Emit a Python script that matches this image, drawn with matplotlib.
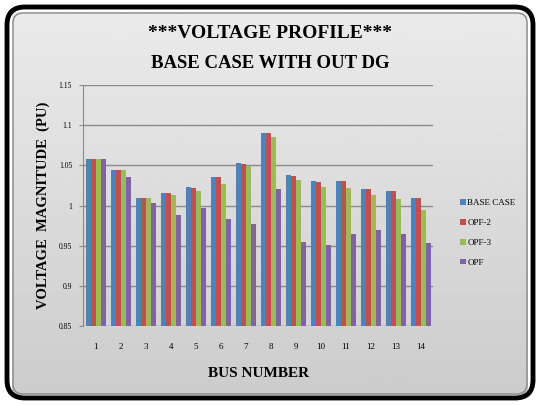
import numpy as np
import matplotlib.pyplot as plt
from matplotlib.patches import FancyBboxPatch

# bus voltages (p.u.)
buses = list(range(1, 15))
base_case = [1.058, 1.044, 1.009, 1.016, 1.023, 1.035, 1.053, 1.090, 1.038, 1.030, 1.030, 1.021, 1.018, 1.010]
opf_2 = [1.058, 1.044, 1.009, 1.016, 1.022, 1.035, 1.052, 1.090, 1.037, 1.029, 1.030, 1.021, 1.018, 1.010]
opf_3 = [1.058, 1.044, 1.009, 1.013, 1.018, 1.027, 1.049, 1.085, 1.032, 1.023, 1.022, 1.013, 1.008, 0.994]
opf = [1.058, 1.035, 1.003, 0.988, 0.997, 0.983, 0.977, 1.021, 0.954, 0.951, 0.965, 0.970, 0.965, 0.953]

series = [("BASE CASE", base_case, "#4F81BD"),
          ("OPF-2", opf_2, "#C0504D"),
          ("OPF-3", opf_3, "#9BBB59"),
          ("OPF", opf, "#8064A2")]

plt.rcParams['font.family'] = ['Liberation Serif', 'DejaVu Serif']

fig = plt.figure(figsize=(5.4, 4.05), dpi=100)

# background: rounded black frame with grey gradient inside
bg = fig.add_axes([0, 0, 1, 1])
bg.set_xlim(0, 540)
bg.set_ylim(405, 0)
bg.axis('off')
grad = np.linspace(0.92, 0.80, 256).reshape(-1, 1)
bg.imshow(grad, cmap='gray', vmin=0, vmax=1, extent=[12, 528, 395, 12], aspect='auto', zorder=0)
frame = FancyBboxPatch((7, 7), 526, 391, boxstyle="round,pad=0,rounding_size=18",
                       fill=False, edgecolor='black', linewidth=3.5, zorder=2)
bg.add_patch(frame)
inner = FancyBboxPatch((13, 13), 514, 381, boxstyle="round,pad=0,rounding_size=10",
                       fill=False, edgecolor='#888888', linewidth=1.0, zorder=2)
bg.add_patch(inner)

ax = fig.add_axes([0.154, 0.195, 0.648, 0.595])
ax.set_facecolor('none')
x = np.arange(len(buses)) + 1
w = 0.2
for i, (name, vals, col) in enumerate(series):
    ax.bar(x + (i - 1.5) * w, vals, width=w, color=col, label=name, zorder=3)

ax.set_ylim(0.85, 1.15)
ax.set_xlim(0.5, 14.5)
ax.set_yticks([0.85, 0.9, 0.95, 1.0, 1.05, 1.1, 1.15])
ax.set_yticklabels(['0.85', '0.9', '0.95', '1', '1.05', '1.1', '1.15'], fontsize=5.5)
ax.set_xticks(x)
ax.set_xticklabels([str(b) for b in buses], fontsize=6.5)
ax.yaxis.grid(True, color='#8a8a8a', linewidth=1.0, zorder=0)
ax.set_axisbelow(True)
for s in ['top', 'right', 'bottom']:
    ax.spines[s].set_visible(False)
ax.spines['left'].set_color('#8a8a8a')
ax.tick_params(axis='x', length=0, pad=12)
ax.tick_params(axis='y', length=3, color='#8a8a8a', pad=5)

ax.set_xlabel('BUS NUMBER', fontsize=11, fontweight='bold', labelpad=12)
ax.set_ylabel('VOLTAGE  MAGNITUDE  (PU)', fontsize=10.5, fontweight='bold', labelpad=6)

fig.text(0.5, 1 - 34 / 405, '***VOLTAGE PROFILE***', ha='center', va='center',
         fontsize=14, fontweight='bold')
fig.text(0.5, 1 - 63 / 405, 'BASE CASE WITH OUT DG', ha='center', va='center',
         fontsize=13.5, fontweight='bold')

fig.legend(loc='center left', bbox_to_anchor=(452 / 540, 1 - 233 / 405), frameon=False, fontsize=6.5,
           handlelength=0.6, handleheight=0.6, handletextpad=0.2, labelspacing=1.3)

fig.savefig('out.png', dpi=100)
